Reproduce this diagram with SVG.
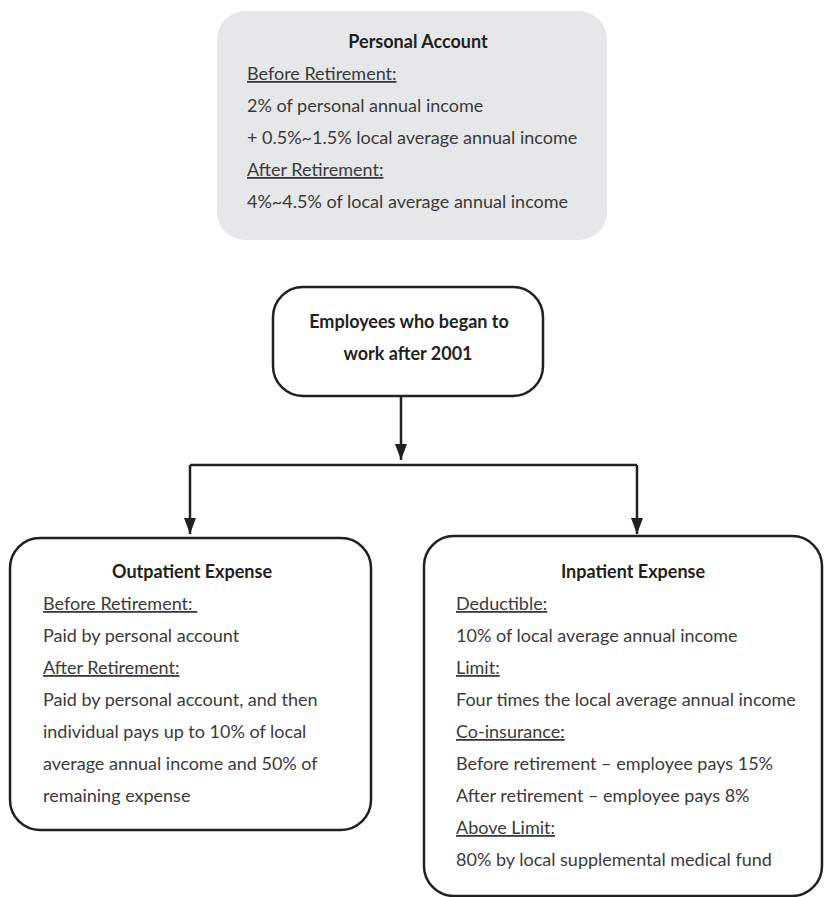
<svg xmlns="http://www.w3.org/2000/svg" width="824" height="897" viewBox="0 0 824 897">
  <style>
    .box { fill: #ffffff; stroke: #231f20; stroke-width: 2.5; }
    .gbox { fill: #e6e7e8; stroke: none; }
    .t { font-family: Lato, "Noto Sans", "Liberation Sans", sans-serif; font-size: 18px; fill: #3a3a3a; }
    .b { font-family: Lato, "Noto Sans", "Liberation Sans", sans-serif; font-size: 18px; font-weight: bold; fill: #231f20; text-anchor: middle; }
    .u { text-decoration: underline; }
    .c { fill: none; stroke: #231f20; stroke-width: 2.5; }
  </style>
  <defs>
    <marker id="arr" viewBox="0 0 16 12" refX="16" refY="6" markerWidth="16" markerHeight="12" markerUnits="userSpaceOnUse" orient="auto">
      <path d="M0,0 L16,6 L0,12 z" fill="#231f20"/>
    </marker>
  </defs>
  <rect width="824" height="897" fill="#ffffff"/>

  <g id="personal-account">
    <rect class="gbox" x="217" y="11" width="390" height="229" rx="28" ry="28"/>
    <text class="b" x="418" y="48">Personal Account</text>
    <text class="t u" x="247" y="80">Before Retirement:</text>
    <text class="t" x="247" y="112">2% of personal annual income</text>
    <text class="t" x="247" y="144">+ 0.5%~1.5% local average annual income</text>
    <text class="t u" x="247" y="176">After Retirement:</text>
    <text class="t" x="247" y="208">4%~4.5% of local average annual income</text>
  </g>

  <g id="employees">
    <rect class="box" x="273" y="287" width="270" height="109" rx="30" ry="30"/>
    <text class="b" x="409" y="328">Employees who began to</text>
    <text class="b" x="408" y="360">work after 2001</text>
  </g>

  <g id="outpatient">
    <rect class="box" x="10" y="538" width="361" height="292" rx="30" ry="30"/>
    <text class="b" x="192" y="578">Outpatient Expense</text>
    <text class="t u" x="43" y="610">Before Retirement:&#160;</text>
    <text class="t" x="43" y="642">Paid by personal account</text>
    <text class="t u" x="43" y="674">After Retirement:</text>
    <text class="t" x="43" y="706">Paid by personal account, and then</text>
    <text class="t" x="43" y="738">individual pays up to 10% of local</text>
    <text class="t" x="43" y="770">average annual income and 50% of</text>
    <text class="t" x="43" y="802">remaining expense</text>
  </g>

  <g id="inpatient">
    <rect class="box" x="424" y="536" width="398" height="360" rx="30" ry="30"/>
    <text class="b" x="633" y="578">Inpatient Expense</text>
    <text class="t u" x="456" y="610">Deductible:</text>
    <text class="t" x="456" y="642">10% of local average annual income</text>
    <text class="t u" x="456" y="674">Limit:</text>
    <text class="t" x="456" y="706">Four times the local average annual income</text>
    <text class="t u" x="456" y="738">Co-insurance:</text>
    <text class="t" x="456" y="770">Before retirement – employee pays 15%</text>
    <text class="t" x="456" y="802">After retirement – employee pays 8%</text>
    <text class="t u" x="456" y="834">Above Limit:</text>
    <text class="t" x="456" y="866">80% by local supplemental medical fund</text>
  </g>

  <g id="connectors">
    <path class="c" d="M401,396 V460" marker-end="url(#arr)"/>
    <path class="c" d="M190,465 H637"/>
    <path class="c" d="M190,465 V534" marker-end="url(#arr)"/>
    <path class="c" d="M637,465 V534" marker-end="url(#arr)"/>
  </g>
</svg>
